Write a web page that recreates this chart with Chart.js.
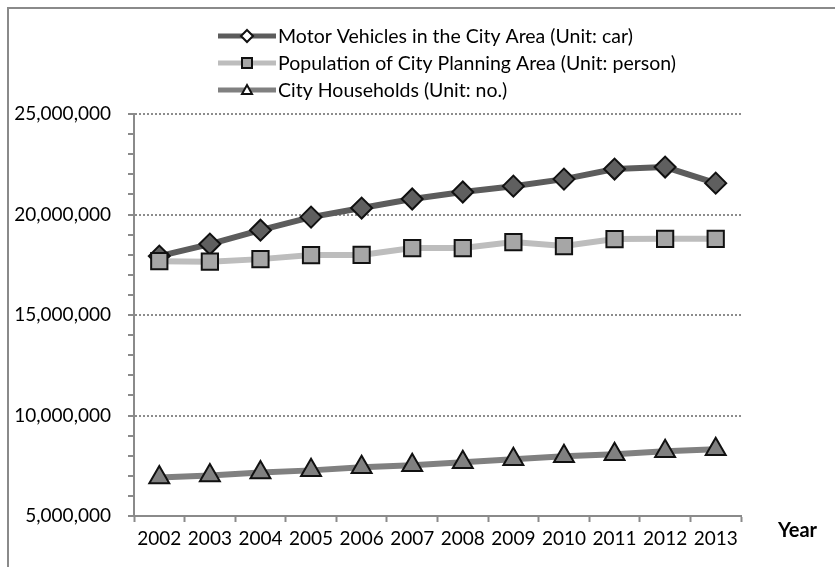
<!DOCTYPE html>
<html>
<head>
<meta charset="utf-8">
<script src="https://cdn.jsdelivr.net/npm/chart.js@4/dist/chart.umd.min.js"></script>
<style>
  html, body { margin: 0; padding: 0; background: #fff; }
  #wrap { width: 835px; height: 567px; }
</style>
</head>
<body>
<div id="wrap"><canvas id="chart" width="835" height="567"></canvas></div>
<script>
const years = ["2002", "2003", "2004", "2005", "2006", "2007", "2008", "2009", "2010", "2011", "2012", "2013"];
const motorVehicles = [17930000, 18530000, 19220000, 19870000, 20320000, 20770000, 21120000, 21410000, 21760000, 22260000, 22360000, 21560000];
const population = [17680000, 17650000, 17780000, 17980000, 17990000, 18330000, 18330000, 18630000, 18430000, 18780000, 18790000, 18790000];
const households = [6920000, 7020000, 7170000, 7270000, 7420000, 7520000, 7670000, 7820000, 7970000, 8070000, 8220000, 8320000];
const seriesNames = [
  "Motor Vehicles in the City Area (Unit: car)",
  "Population of City Planning Area (Unit: person)",
  "City Households (Unit: no.)"
];
const yMin = 5000000, yMax = 25000000, yMajor = 5000000, yMinor = 1000000;

const FONT = "Lato, 'Liberation Sans', sans-serif";
const AXIS = "#8a8a8a";

function fmt(v) {
  return String(Math.round(v)).replace(/\B(?=(\d{3})+(?!\d))/g, ",");
}

// legend with line + marker samples, frame, and "Year" label
const decor = {
  id: "decor",
  beforeDraw(chart) {
    const c = chart.ctx;
    c.save();
    c.fillStyle = "#fff";
    c.fillRect(0, 0, chart.width, chart.height);
    c.strokeStyle = AXIS;
    c.lineWidth = 2;
    c.beginPath();
    c.moveTo(8, chart.height);
    c.lineTo(8, 8);
    c.lineTo(chart.width, 8);
    c.stroke();
    c.restore();
  },
  afterDraw(chart) {
    const c = chart.ctx;
    const rows = [36, 63, 90];
    const x0 = 218, x1 = 276, mx = 247;
    c.save();
    chart.data.datasets.forEach((ds, i) => {
      const y = rows[i];
      c.strokeStyle = ds.borderColor;
      c.lineWidth = 5;
      c.beginPath();
      c.moveTo(x0, y);
      c.lineTo(x1, y);
      c.stroke();
      c.fillStyle = i === 1 ? "#a6a6a6" : "#ffffff";
      c.strokeStyle = "#111";
      c.lineWidth = 2;
      c.beginPath();
      if (i === 0) {
        c.moveTo(mx, y - 6); c.lineTo(mx + 6, y); c.lineTo(mx, y + 6); c.lineTo(mx - 6, y);
      } else if (i === 1) {
        c.rect(mx - 5, y - 5, 10, 10);
      } else {
        c.moveTo(mx, y - 5); c.lineTo(mx + 5, y + 4); c.lineTo(mx - 5, y + 4);
      }
      c.closePath();
      c.fill();
      c.stroke();
      c.fillStyle = "#000";
      c.font = "19.5px " + FONT;
      c.textBaseline = "middle";
      c.textAlign = "left";
      c.fillText(seriesNames[i], 278, y + 1);
    });
    c.font = "bold 20px " + FONT;
    c.textAlign = "left";
    c.textBaseline = "middle";
    c.fillText("Year", 778, 531);
    c.restore();
  }
};

const markerBorder = "#111";

new Chart(document.getElementById("chart"), {
  type: "line",
  data: {
    labels: years,
    datasets: [
      {
        label: seriesNames[0],
        data: motorVehicles,
        borderColor: "#5c5c5c",
        borderWidth: 6,
        pointStyle: "rectRot",
        pointRadius: 10.5,
        pointBackgroundColor: "#5f5f5f",
        pointBorderColor: markerBorder,
        pointBorderWidth: 2,
        tension: 0,
        order: 2
      },
      {
        label: seriesNames[1],
        data: population,
        borderColor: "#bdbdbd",
        borderWidth: 6,
        pointStyle: "rect",
        pointRadius: 11.5,
        pointBackgroundColor: "#a6a6a6",
        pointBorderColor: markerBorder,
        pointBorderWidth: 2,
        tension: 0,
        order: 1
      },
      {
        label: seriesNames[2],
        data: households,
        borderColor: "#808080",
        borderWidth: 6,
        pointStyle: "triangle",
        pointRadius: 11.5,
        pointBackgroundColor: "#808080",
        pointBorderColor: markerBorder,
        pointBorderWidth: 2,
        tension: 0,
        order: 3
      }
    ]
  },
  options: {
    responsive: false,
    animation: false,
    events: [],
    layout: { padding: { left: 0, right: 94, top: 114, bottom: 0 } },
    plugins: {
      legend: { display: false },
      tooltip: { enabled: false }
    },
    scales: {
      x: {
        offset: true,
        afterFit(scale) { scale.height = 51; },
        grid: {
          offset: true,
          drawOnChartArea: false,
          tickLength: 6,
          tickColor: AXIS,
          tickWidth: 2
        },
        border: { color: AXIS, width: 2 },
        ticks: {
          color: "#000",
          padding: 5,
          maxRotation: 0,
          autoSkip: false,
          font: { family: FONT, size: 19 }
        }
      },
      y: {
        min: yMin,
        max: yMax,
        afterFit(scale) { scale.width = 134; },
        grid: {
          color: (ctx) => (ctx.tick && ctx.tick.value % yMajor === 0 && ctx.tick.value > yMin) ? "#8c8c8c" : "rgba(0,0,0,0)",
          lineWidth: 2,
          tickLength: 6,
          tickColor: AXIS,
          tickWidth: 2
        },
        border: { color: AXIS, width: 2, dash: [2, 2] },
        ticks: {
          stepSize: yMinor,
          autoSkip: false,
          color: "#000",
          padding: 17,
          font: { family: FONT, size: 19 },
          callback: (v) => (v % yMajor === 0 ? fmt(v) : "")
        }
      }
    }
  },
  plugins: [decor]
});
</script>
</body>
</html>
